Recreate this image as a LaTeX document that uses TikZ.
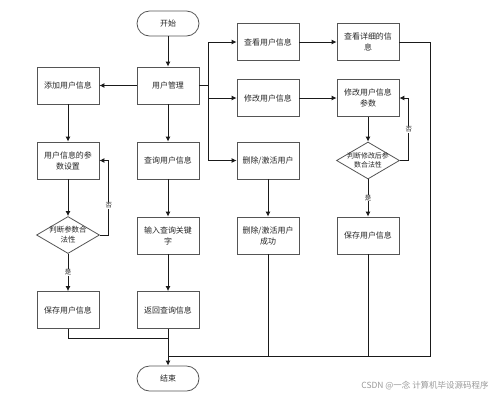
\documentclass[tikz,border=0pt]{standalone}
\usepackage{fontspec}
\newfontfamily\cjk{Noto Sans CJK SC}
\usetikzlibrary{shapes.geometric,arrows.meta}
\definecolor{bordc}{HTML}{555555}
\definecolor{linec}{HTML}{1A1A1A}
\tikzset{
  base/.style={font=\cjk\fontsize{8}{11}\selectfont, text=black!85},
  box/.style={base, draw=bordc, fill=white, line width=0.8bp, minimum width=62bp, minimum height=37bp, inner sep=1bp, align=center},
  term/.style={base, draw=bordc, fill=white, line width=0.8bp, minimum width=62bp, minimum height=25bp, rounded corners=12.5bp},
  dia/.style={diamond, draw=bordc, fill=white, line width=0.8bp, minimum width=63bp, minimum height=37bp, inner sep=0pt},
  conn/.style={draw=linec, line width=0.9bp},
  arr/.style={conn, -{Latex[length=5bp,width=5bp]}},
  lbl/.style={base, fill=white, inner sep=0.6bp, font=\cjk\fontsize{6.5}{8}\selectfont}
}
\begin{document}
\begin{tikzpicture}[x=1bp,y=-1bp]
\useasboundingbox (0,0) rectangle (500,397);
% nodes
\node[term] (start) at (168,23.5) {开始};
\node[box] (mgr) at (168,85.5) {用户管理};
\node[box] (add) at (68,85.5) {添加用户信息};
\node[box] (param) at (68,160.5) {用户信息的参\\数设置};
\node[dia, label={[base,align=center,font=\cjk\fontsize{7.5}{10}\selectfont]center:判断参数合\\法性}] (d1) at (68,235) {};
\node[box] (save1) at (68,310) {保存用户信息};
\node[box] (query) at (168,160.5) {查询用户信息};
\node[box] (kw) at (168,235.5) {输入查询关键\\字};
\node[box] (ret) at (168,310) {返回查询信息};
\node[box] (view) at (268,42) {查看用户信息};
\node[box] (detail) at (368,42) {查看详细的信\\息};
\node[box] (modify) at (268,98) {修改用户信息};
\node[box] (modp) at (368,98) {修改用户信息\\参数};
\node[box] (del) at (268,160.5) {删除/激活用户};
\node[dia, label={[base,align=center,font=\cjk\fontsize{7}{9.5}\selectfont]center:判断修改后参\\数合法性}] (d2) at (368,160.5) {};
\node[box] (delok) at (268,235.5) {删除/激活用户\\成功};
\node[box] (save2) at (368,235.5) {保存用户信息};
\node[term] (end) at (168,378.5) {结束};
% coordinates
\coordinate (br) at (208,85.5);
\coordinate (j1) at (168,338);
\coordinate (j2) at (168,356);
\coordinate (rr) at (430,356);
% connectors
\draw[arr] (start) -- (mgr);
\draw[arr] (mgr) -- (add);
\draw[arr] (mgr) -- (query);
\draw[conn] (mgr.east) -- (br);
\draw[arr] (br) |- (view.west);
\draw[arr] (br) |- (modify.west);
\draw[arr] (br) |- (del.west);
\draw[arr] (add) -- (param);
\draw[arr] (param) -- (d1);
\draw[arr] (d1.east) -- ++(9,0) |- (param.east) node[lbl, pos=0.2] {否};
\draw[arr] (d1) -- node[lbl, pos=0.5] {是} (save1);
\draw[arr] (query) -- (kw);
\draw[arr] (kw) -- (ret);
\draw[arr] (ret) -- (end);
\draw[conn] (save1.south) |- (j1);
\draw[arr] (view) -- (detail);
\draw[arr] (modify) -- (modp);
\draw[arr] (modp) -- (d2);
\draw[arr] (d2.east) -- ++(9,0) |- (modp.east) node[lbl, pos=0.25] {否};
\draw[arr] (d2) -- node[lbl, pos=0.5] {是} (save2);
\draw[arr] (del) -- (delok);
\draw[conn] (detail.east) -| (rr) -- (j2);
\draw[conn] (delok.south) -- (delok.south |- j2);
\draw[conn] (save2.south) -- (save2.south |- j2);
% watermark
\node[font=\cjk\fontsize{8.5}{10}\selectfont, text=black!40, anchor=east] (wm) at (492,385.5) {CSDN @一念 计算机毕设源码程序};
\end{tikzpicture}
\end{document}
